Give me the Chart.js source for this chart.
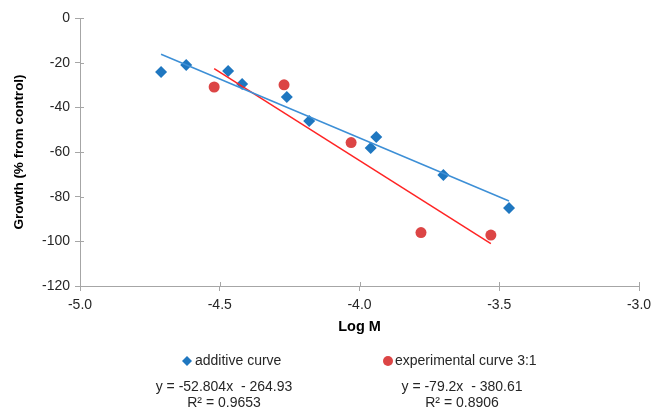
<!DOCTYPE html>
<html>
<head>
<meta charset="utf-8">
<title>Growth vs Log M</title>
<script src="https://cdn.jsdelivr.net/npm/chart.js@4.4.1/dist/chart.umd.min.js"></script>
<style>
  body { margin: 0; background: #fff; }
  #wrap { width: 654px; height: 409px; }
</style>
</head>
<body>
<div id="wrap"><canvas id="chart" width="654" height="409"></canvas></div>
<script>
// Data
const additiveX = [-4.71, -4.62, -4.47, -4.42, -4.26, -4.18, -3.96, -3.94, -3.70, -3.465];
const additiveY = [-24.2, -21.0, -23.7, -29.6, -35.4, -46.1, -58.2, -53.3, -70.3, -85.1];
const experimentalX = [-4.52, -4.27, -4.03, -3.78, -3.53];
const experimentalY = [-30.9, -29.9, -55.8, -96.1, -97.2];

// Trendline coefficients as printed under the legend
const seriesNames = ['additive curve', 'experimental curve 3:1'];
const slopes = [-52.804, -79.2];
const intercepts = [-264.93, -380.61];
const rSquared = ['0.9653', '0.8906'];
const equationTexts = ['y = -52.804x  - 264.93', 'y = -79.2x  - 380.61'];

const xTicks = [-5.0, -4.5, -4.0, -3.5, -3.0];
const yTicks = [0, -20, -40, -60, -80, -100, -120];

const BLUE = '#1f77c0';
const BLUE_LINE = '#3d8fd6';
const RED = '#dc4545';
const RED_LINE = '#ff2424';
const AXIS = '#a6a6a6';
const FONT = "'Liberation Sans', Arial, sans-serif";

function toPoints(xs, ys) {
    return xs.map((x, i) => ({ x: x, y: ys[i] }));
}

// trendline spans the x range of its own series
function trendPoints(xs, k) {
    const x0 = Math.min(...xs);
    const x1 = Math.max(...xs);
    return [
        { x: x0, y: slopes[k] * x0 + intercepts[k] },
        { x: x1, y: slopes[k] * x1 + intercepts[k] }
    ];
}

// small tick halves inside the plot, like the original axes
const crossTicks = {
    id: 'crossTicks',
    afterDraw(chart) {
        const ctx = chart.ctx;
        const xs = chart.scales.x, ys = chart.scales.y;
        ctx.save();
        ctx.strokeStyle = AXIS;
        ctx.lineWidth = 1;
        ctx.beginPath();
        xTicks.forEach(v => {
            const px = Math.round(xs.getPixelForValue(v)) + 0.5;
            ctx.moveTo(px, ys.bottom);
            ctx.lineTo(px, ys.bottom - 4);
        });
        yTicks.forEach(v => {
            const py = Math.round(ys.getPixelForValue(v)) + 0.5;
            ctx.moveTo(xs.left, py);
            ctx.lineTo(xs.left + 4, py);
        });
        ctx.stroke();
        ctx.restore();
    }
};

// legend and trendline equations under the axis title
const legendBlock = {
    id: 'legendBlock',
    afterDraw(chart) {
        const ctx = chart.ctx;
        ctx.save();
        ctx.font = '14px ' + FONT;
        ctx.textBaseline = 'middle';
        ctx.textAlign = 'left';

        const ly = 361;
        // diamond
        ctx.fillStyle = BLUE;
        ctx.beginPath();
        ctx.moveTo(187, ly - 5);
        ctx.lineTo(192, ly);
        ctx.lineTo(187, ly + 5);
        ctx.lineTo(182, ly);
        ctx.closePath();
        ctx.fill();
        // circle
        ctx.fillStyle = RED;
        ctx.beginPath();
        ctx.arc(388, ly, 5, 0, Math.PI * 2);
        ctx.fill();

        ctx.fillStyle = '#262626';
        ctx.fillText(seriesNames[0], 195, ly);
        ctx.fillText(seriesNames[1], 395, ly);

        ctx.textAlign = 'center';
        const centers = [224, 462];
        centers.forEach((cx, k) => {
            ctx.fillText(equationTexts[k], cx, 387);
            ctx.fillText('R² = ' + rSquared[k], cx, 403);
        });
        ctx.restore();
    }
};

const ctx = document.getElementById('chart').getContext('2d');
new Chart(ctx, {
    type: 'scatter',
    data: {
        datasets: [
            {
                label: seriesNames[0],
                data: toPoints(additiveX, additiveY),
                pointStyle: 'rectRot',
                pointRadius: 6,
                pointBackgroundColor: BLUE,
                pointBorderWidth: 0,
                order: 1
            },
            {
                label: seriesNames[1],
                data: toPoints(experimentalX, experimentalY),
                pointStyle: 'circle',
                pointRadius: 5.5,
                pointBackgroundColor: RED,
                pointBorderWidth: 0,
                order: 1
            },
            {
                label: 'Linear (' + seriesNames[0] + ')',
                type: 'line',
                data: trendPoints(additiveX, 0),
                borderColor: BLUE_LINE,
                borderWidth: 1.5,
                pointRadius: 0,
                fill: false,
                order: 0
            },
            {
                label: 'Linear (' + seriesNames[1] + ')',
                type: 'line',
                data: trendPoints(experimentalX, 1),
                borderColor: RED_LINE,
                borderWidth: 1.5,
                pointRadius: 0,
                fill: false,
                order: 0
            }
        ]
    },
    options: {
        responsive: false,
        animation: false,
        layout: { padding: { left: 0, right: 15, top: 18, bottom: 63 } },
        plugins: {
            legend: { display: false },
            tooltip: { enabled: false }
        },
        scales: {
            x: {
                type: 'linear',
                min: -5,
                max: -3,
                afterBuildTicks: s => { s.ticks = xTicks.map(v => ({ value: v })); },
                afterFit: s => { s.height = 60; s.paddingLeft = 0; s.paddingRight = 0; },
                border: { color: AXIS, width: 1 },
                grid: { drawOnChartArea: false, color: AXIS, tickLength: 5 },
                ticks: {
                    padding: 6,
                    maxRotation: 0,
                    color: '#262626',
                    font: { family: FONT, size: 14 },
                    callback: v => v.toFixed(1)
                },
                title: {
                    display: true,
                    text: 'Log M',
                    color: '#000',
                    font: { family: FONT, size: 14.5, weight: 'bold', lineHeight: 1.2 },
                    padding: { top: 0, bottom: 10 }
                }
            },
            y: {
                type: 'linear',
                min: -120,
                max: 0,
                afterBuildTicks: s => { s.ticks = yTicks.map(v => ({ value: v })); },
                afterFit: s => { s.width = 80; },
                border: { color: AXIS, width: 1 },
                grid: { drawOnChartArea: false, color: AXIS, tickLength: 5 },
                ticks: {
                    padding: 5,
                    color: '#262626',
                    font: { family: FONT, size: 14 }
                },
                title: {
                    display: true,
                    text: 'Growth (% from control)',
                    color: '#000',
                    font: { family: FONT, size: 13.5, weight: 'bold', lineHeight: 1.2 },
                    padding: { top: 11, bottom: 0 }
                }
            }
        }
    },
    plugins: [crossTicks, legendBlock]
});
</script>
</body>
</html>
